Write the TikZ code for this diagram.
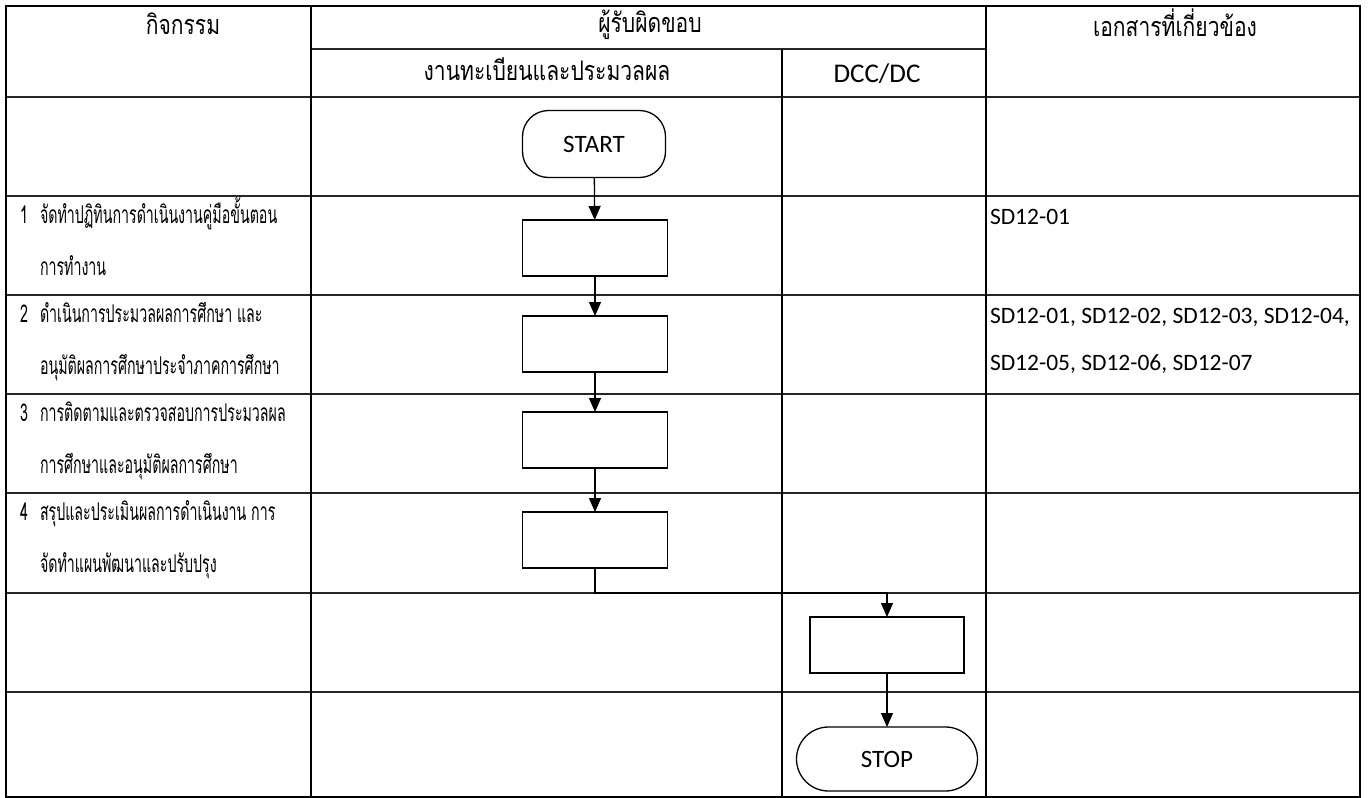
\documentclass[tikz,border=0pt]{standalone}
\usepackage{fontspec}
\setmainfont{Carlito}
\newfontfamily\thaih[Script=Thai,FakeStretch=0.78]{Loma}
\newfontfamily\thaib[Script=Thai,FakeStretch=0.58]{Loma}
\usetikzlibrary{arrows.meta}
\begin{document}
\begin{tikzpicture}[x=1pt,y=-1pt,
  every node/.style={inner sep=0pt,outer sep=0pt},
  thh/.style={font=\thaih\fontsize{27}{30}\selectfont},
  th/.style={font=\thaib\fontsize{24.5}{30}\selectfont},
  la/.style={font=\fontsize{23.5}{28}\selectfont},
  grid/.style={line width=1.1pt,black!85},
  col/.style={line width=1.5pt,black},
  proc/.style={draw,line width=1.3pt,minimum width=145pt,minimum height=56pt},
  term/.style={draw,line width=1.3pt,font=\fontsize{25}{30}\selectfont},
  flow/.style={line width=1.3pt,-{Triangle[length=14pt,width=12pt]}}]
\useasboundingbox (0,0) rectangle (1369,798);
\fill[white] (0,0) rectangle (1369,798);
% table
\foreach \y in {97,196,295,394,493,593,692} \draw[grid] (6,\y) -- (1360,\y);
\draw[grid] (311,49) -- (986,49);
\draw[col] (6,6) rectangle (1360,797);
\draw[col] (311,6) -- (311,797);
\draw[col] (986,6) -- (986,797);
\draw[col] (782,49) -- (782,797);
% header
\node[thh,anchor=base] (h1) at (183,34) {กิจกรรม};
\node[thh,anchor=base] (h2) at (650,32) {ผู้รับผิดขอบ};
\node[thh,anchor=base] (h3) at (547,80) {งานทะเบียนและประมวลผล};
\node[la,font=\fontsize{27}{30}\selectfont,anchor=base] (h4) at (877,82) {DCC/DC};
\node[thh,anchor=base] (h5) at (1175,36) {เอกสารที่เกี่ยวข้อง};
% activities
\node[th,anchor=base] (n1) at (24,223) {1};
\node[th,anchor=base west] (t1a) at (40,223) {จัดทำปฏิทินการดำเนินงานคู่มือขั้นตอน};
\node[th,anchor=base west] (t1b) at (40,275) {การทำงาน};
\node[th,anchor=base] (n2) at (24,322) {2};
\node[th,anchor=base west] (t2a) at (40,322) {ดำเนินการประมวลผลการศึกษา และ};
\node[th,anchor=base west] (t2b) at (40,374) {อนุมัติผลการศึกษาประจำภาคการศึกษา};
\node[th,anchor=base] (n3) at (24,421) {3};
\node[th,anchor=base west] (t3a) at (40,421) {การติดตามและตรวจสอบการประมวลผล};
\node[th,anchor=base west] (t3b) at (40,473) {การศึกษาและอนุมัติผลการศึกษา};
\node[th,anchor=base] (n4) at (24,520) {4};
\node[th,anchor=base west] (t4a) at (40,520) {สรุปและประเมินผลการดำเนินงาน การ};
\node[th,anchor=base west] (t4b) at (40,572) {จัดทำแผนพัฒนาและปรับปรุง};
% documents
\node[la,anchor=base west] (d1) at (990,224) {SD12-01};
\node[la,anchor=base west] (d2a) at (990,323) {SD12-01, SD12-02, SD12-03, SD12-04,};
\node[la,anchor=base west] (d2b) at (990,370) {SD12-05, SD12-06, SD12-07};
% flow
\node[term,rounded corners=26pt,minimum width=143pt,minimum height=67pt] (start) at (594,144) {START};
\node[proc] (b1) at (595,248) {};
\node[proc] (b2) at (595,344) {};
\node[proc] (b3) at (595,440) {};
\node[proc] (b4) at (595,540) {};
\node[proc,minimum width=154pt] (dcc) at (887,645) {};
\node[term,rounded corners=32pt,minimum width=181pt,minimum height=64pt] (stop) at (887,759) {STOP};
\coordinate (j2) at (887,593);
\draw[flow] (start) -- (b1);
\draw[flow] (b1) -- (b2);
\draw[flow] (b2) -- (b3);
\draw[flow] (b3) -- (b4);
\draw[flow] (b4.south) |- (j2) -- (dcc.north);
\draw[flow] (dcc) -- (stop);
\end{tikzpicture}
\end{document}
